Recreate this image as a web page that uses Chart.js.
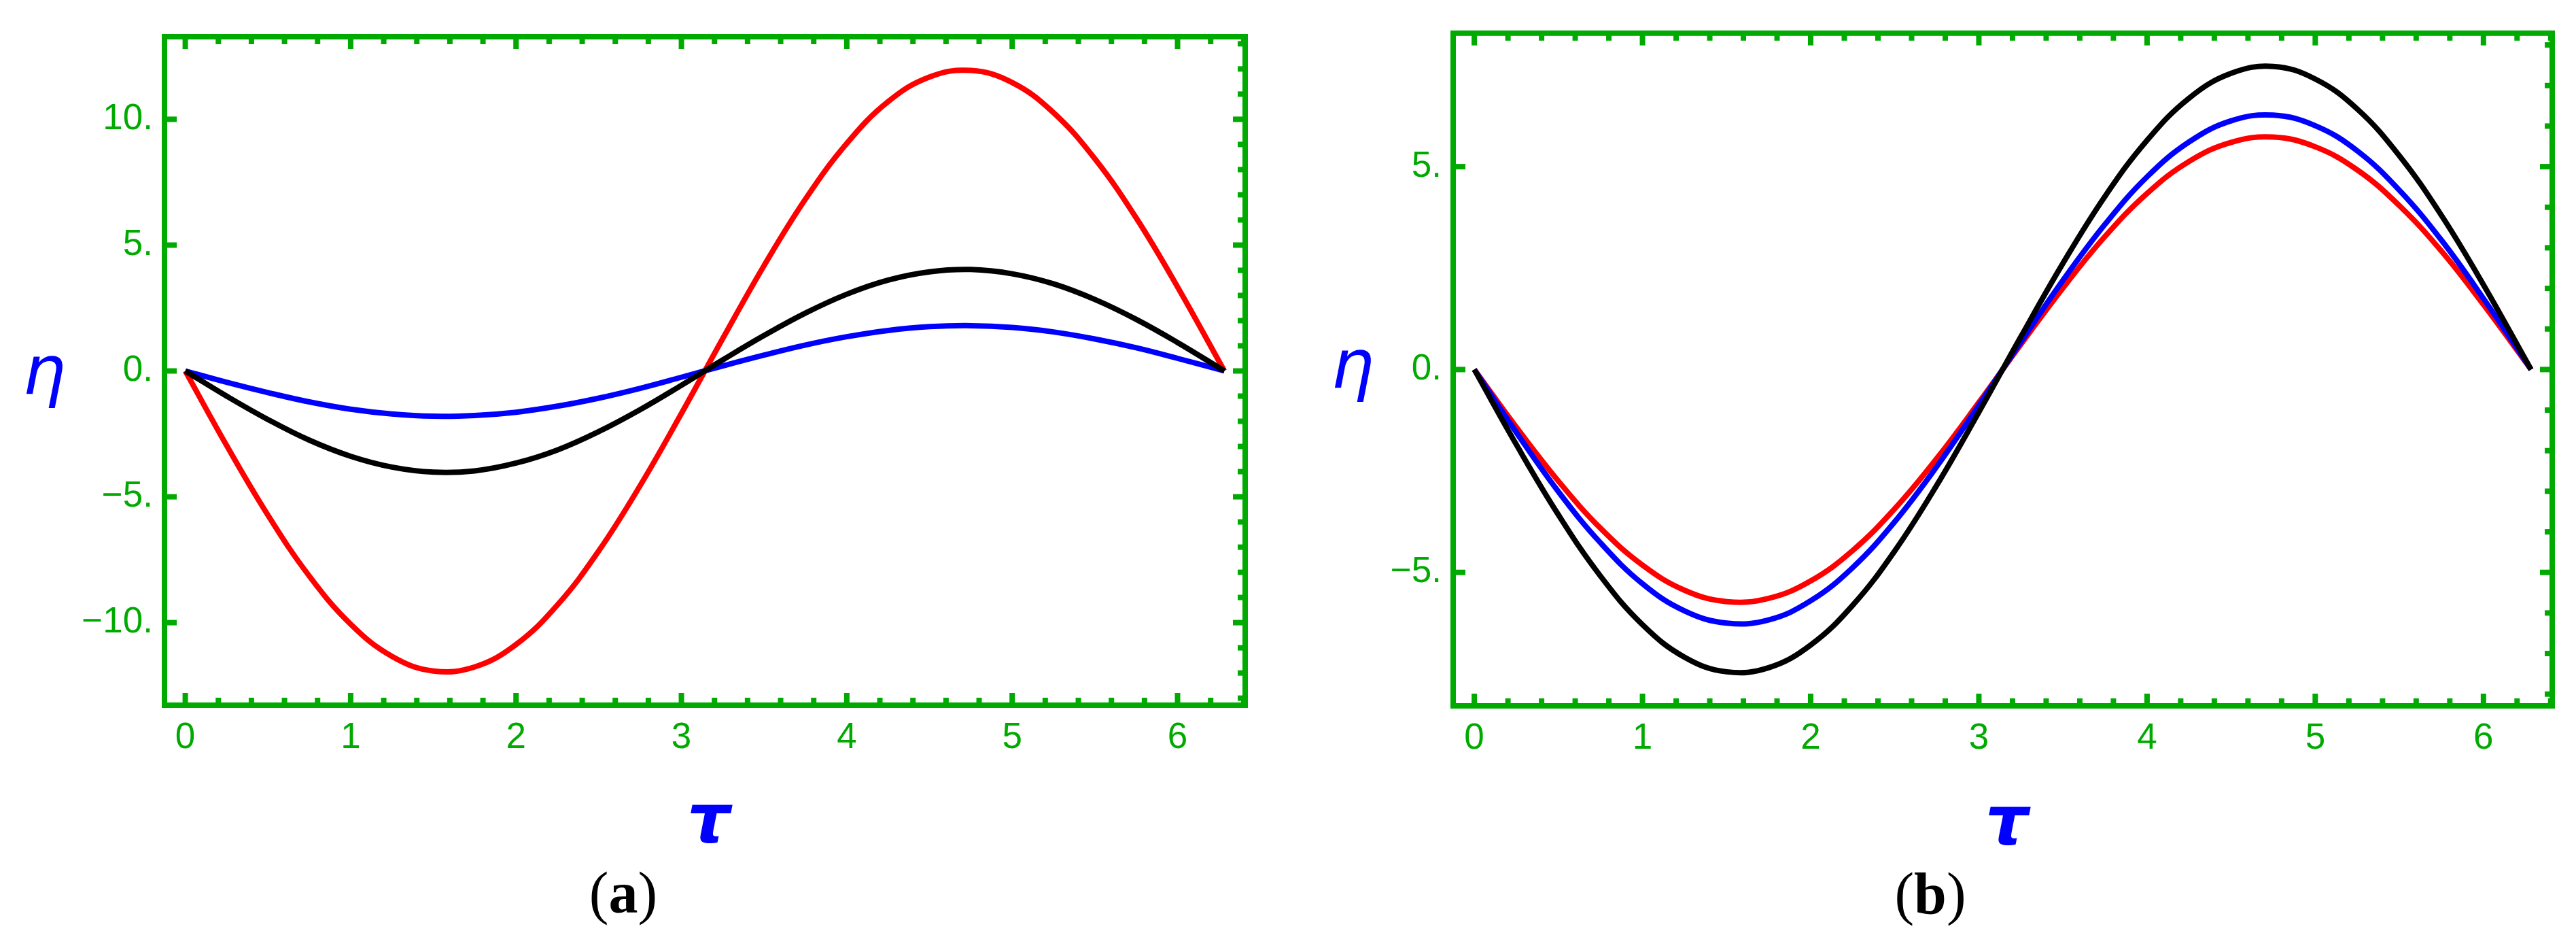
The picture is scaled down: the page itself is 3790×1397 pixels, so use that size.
<!DOCTYPE html>
<html>
<head>
<meta charset="utf-8">
<script src="https://cdn.jsdelivr.net/npm/chart.js@4.4.1/dist/chart.umd.min.js"></script>
<style>
  html, body { margin: 0; padding: 0; background: #fff; }
  #wrap { position: relative; width: 3790px; height: 1397px; overflow: hidden; background: #fff; }
  canvas { position: absolute; top: 0; }
</style>
</head>
<body>
<div id="wrap">
  <canvas id="chartA" width="1900" height="1397" style="left:0px"></canvas>
  <canvas id="chartB" width="1890" height="1397" style="left:1900px"></canvas>
</div>
<script>
// tau samples shared by every curve
const tau = [0, 0.25, 0.5, 0.75, 1, 1.25, 1.5, 1.75, 2, 2.25, 2.5, 2.75, 3,
  3.25, 3.5, 3.75, 4, 4.25, 4.5, 4.75, 5, 5.25, 5.5, 5.75, 6, 6.2832];

// panel (a)
const etaBlackA = [0, -1.00, -1.93, -2.75, -3.39, -3.82, -4.02, -3.97, -3.66, -3.14, -2.41, -1.54, -0.57,
  0.44, 1.41, 2.30, 3.05, 3.61, 3.94, 4.03, 3.86, 3.46, 2.84, 2.05, 1.13, 0];
const etaRedA = [0, -2.96, -5.73, -8.15, -10.06, -11.34, -11.92, -11.76, -10.87, -9.30, -7.15, -4.56, -1.69,
  1.29, 4.19, 6.83, 9.04, 10.70, 11.68, 11.94, 11.46, 10.26, 8.43, 6.08, 3.34, 0];
const etaBlueA = [0, -0.45, -0.86, -1.23, -1.52, -1.71, -1.80, -1.77, -1.64, -1.40, -1.08, -0.69, -0.25,
  0.20, 0.63, 1.03, 1.36, 1.61, 1.76, 1.80, 1.73, 1.55, 1.27, 0.92, 0.50, 0];

// panel (b)
const etaBlackB = [0, -1.85, -3.58, -5.09, -6.29, -7.09, -7.45, -7.35, -6.79, -5.81, -4.47, -2.85, -1.05,
  0.81, 2.62, 4.27, 5.65, 6.69, 7.30, 7.47, 7.16, 6.42, 5.27, 3.80, 2.09, 0];
const etaBlueB = [0, -1.55, -3.01, -4.27, -5.28, -5.95, -6.25, -6.17, -5.70, -4.88, -3.75, -2.39, -0.88,
  0.68, 2.20, 3.58, 4.75, 5.61, 6.13, 6.27, 6.01, 5.39, 4.42, 3.19, 1.75, 0];
const etaRedB = [0, -1.42, -2.75, -3.91, -4.82, -5.44, -5.72, -5.64, -5.21, -4.46, -3.43, -2.19, -0.81,
  0.62, 2.01, 3.28, 4.34, 5.13, 5.60, 5.73, 5.49, 4.92, 4.04, 2.92, 1.60, 0];

// tick labels
const xTicks = [0, 1, 2, 3, 4, 5, 6];
const yTicksA = [-10, -5, 0, 5, 10];
const yTicksB = [-5, 0, 5];

const GREEN = 'rgb(0,170,0)';

const pts = (ys) => tau.map((t, i) => ({ x: t, y: ys[i] }));

function line(ctx, x1, y1, x2, y2) {
  ctx.beginPath();
  ctx.moveTo(x1, y1);
  ctx.lineTo(x2, y2);
  ctx.stroke();
}

// Mathematica-style frame: ticks on all four sides pointing inward, plus the symbol labels
const framePlugin = {
  id: 'frame',
  afterDatasetsDraw(chart, args, opts) {
    const ctx = chart.ctx;
    const { left, right, top, bottom } = chart.chartArea;
    const xs = chart.scales.x, ys = chart.scales.y;
    ctx.save();
    ctx.strokeStyle = GREEN;
    ctx.lineWidth = 8;
    ctx.lineCap = 'butt';
    ctx.strokeRect(left, top, right - left, bottom - top);

    // bottom and top: major every 1, minor every 0.2
    for (let k = 0; k * 0.2 <= xs.max + 1e-9; k++) {
      const px = xs.getPixelForValue(k * 0.2);
      const len = k % 5 === 0 ? 18 : 11;
      line(ctx, px, bottom, px, bottom - len);
      line(ctx, px, top, px, top + len);
    }
    // right: minor every 1, major every 5
    for (let v = Math.ceil(ys.min); v <= ys.max; v++) {
      const py = ys.getPixelForValue(v);
      const len = v % 5 === 0 ? 18 : 11;
      line(ctx, right, py, right - len, py);
    }
    // left: major only
    for (const v of opts.yMajor) {
      const py = ys.getPixelForValue(v);
      line(ctx, left, py, left + 18, py);
    }

    ctx.fillStyle = 'rgb(0,0,255)';
    ctx.textAlign = 'center';
    ctx.textBaseline = 'alphabetic';
    ctx.font = 'italic 100px "DejaVu Sans"';
    ctx.fillText('\u03B7', opts.etaX, opts.etaBase);
    ctx.font = 'italic bold 100px "DejaVu Sans"';
    ctx.fillText('\u03C4', opts.tauX, opts.tauBase);

    // caption "(a)" with bold letter
    ctx.fillStyle = '#000';
    const reg = '86px "Liberation Serif"', bold = 'bold 86px "Liberation Serif"';
    ctx.font = reg;
    const wp = ctx.measureText('(').width, wq = ctx.measureText(')').width;
    ctx.font = bold;
    const wl = ctx.measureText(opts.letter).width;
    let x = opts.capX - (wp + wl + wq) / 2;
    ctx.textAlign = 'left';
    ctx.font = reg; ctx.fillText('(', x, opts.capBase); x += wp;
    ctx.font = bold; ctx.fillText(opts.letter, x, opts.capBase); x += wl;
    ctx.font = reg; ctx.fillText(')', x, opts.capBase);
    ctx.restore();
  }
};

function makeChart(id, datasets, yMin, yMax, yTicks, yWidth, padding, labels) {
  return new Chart(document.getElementById(id), {
    type: 'line',
    data: { datasets: datasets },
    options: {
      responsive: false,
      animation: false,
      devicePixelRatio: 1,
      layout: { padding: padding },
      plugins: { legend: { display: false }, tooltip: { enabled: false }, frame: labels },
      elements: { point: { radius: 0 }, line: { borderWidth: 8, tension: 0.4, fill: false } },
      scales: {
        x: {
          type: 'linear', min: -0.1257, max: 6.4089,
          grid: { display: false, drawTicks: false }, border: { display: false },
          afterBuildTicks: (s) => { s.ticks = xTicks.map((v) => ({ value: v })); },
          afterFit: (s) => { s.height = 200; },
          ticks: {
            color: GREEN, font: { family: 'Liberation Sans', size: 53 }, padding: 17,
            autoSkip: false, maxRotation: 0, callback: (v) => String(v)
          }
        },
        y: {
          type: 'linear', min: yMin, max: yMax,
          grid: { display: false, drawTicks: false }, border: { display: false },
          afterBuildTicks: (s) => { s.ticks = yTicks.map((v) => ({ value: v })); },
          afterFit: (s) => { s.width = yWidth; },
          ticks: {
            color: GREEN, font: { family: 'Liberation Sans', size: 53 }, padding: 17,
            autoSkip: false, callback: (v) => (v < 0 ? '\u2212' : '') + Math.abs(v) + '.'
          }
        }
      }
    },
    plugins: [framePlugin]
  });
}

makeChart('chartA', [
  { data: pts(etaBlackA), borderColor: '#000000' },
  { data: pts(etaRedA), borderColor: '#ff0000' },
  { data: pts(etaBlueA), borderColor: '#0000ff' }
], -13.28, 13.28, yTicksA, 242, { top: 54, right: 68, bottom: 160, left: 0 },
{ yMajor: yTicksA, etaX: 65, etaBase: 579, tauX: 1043, tauBase: 1239, letter: 'a', capX: 917, capBase: 1342 });

makeChart('chartB', [
  { data: pts(etaBlackB), borderColor: '#000000' },
  { data: pts(etaBlueB), borderColor: '#0000ff' },
  { data: pts(etaRedB), borderColor: '#ff0000' }
], -8.29, 8.29, yTicksB, 238, { top: 36, right: 35, bottom: 159, left: 0 },
{ yMajor: yTicksB, etaX: 90, etaBase: 570, tauX: 1053, tauBase: 1242, letter: 'b', capX: 940, capBase: 1343 });
</script>
</body>
</html>
